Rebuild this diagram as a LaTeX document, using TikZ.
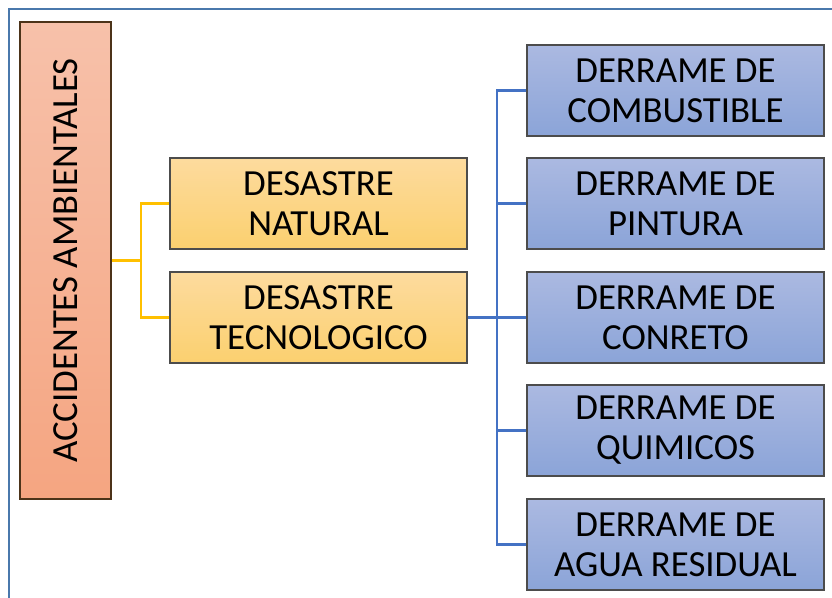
\documentclass[tikz,border=0pt]{standalone}
\usepackage{fontspec}
\setmainfont{Carlito}
\begin{document}
\begin{tikzpicture}[x=0.75pt,y=-0.75pt,
  base/.style={draw=black!70,line width=0.8pt,minimum width=297*0.75pt,minimum height=91*0.75pt,align=center,font=\fontsize{27.6}{30}\selectfont,inner sep=0pt},
  orangebox/.style={base,top color=orange1,bottom color=orange2},
  bluebox/.style={base,top color=blue1,bottom color=blue2},
  yline/.style={draw=yel,line width=1.6pt},
  bline/.style={draw=blu,line width=1.6pt}]
\definecolor{orange1}{HTML}{FDDB9E}
\definecolor{orange2}{HTML}{FBD06F}
\definecolor{blue1}{HTML}{ABB9E1}
\definecolor{blue2}{HTML}{8BA4D8}
\definecolor{salm1}{HTML}{F7C1AA}
\definecolor{salm2}{HTML}{F5A581}
\definecolor{yel}{HTML}{FFC000}
\definecolor{blu}{HTML}{4472C4}
\definecolor{frame}{HTML}{4A78AC}
\useasboundingbox (0,0) rectangle (832,597);
\draw[frame,line width=2pt] (9,620) -- (9,9) -- (850,9);
\node[draw=black!60!brown,line width=0.8pt,top color=salm1,bottom color=salm2,minimum width=91*0.75pt,minimum height=477*0.75pt,inner sep=0pt] (acc) at (65.5,260.5) {};
\node[rotate=90,font=\fontsize{27.6}{30}\selectfont] (acct) at (acc.center) {ACCIDENTES AMBIENTALES};
\node[orangebox] (nat) at (318.5,203.5) {DESASTRE\\NATURAL};
\node[orangebox] (tec) at (318.5,317.5) {DESASTRE\\TECNOLOGICO};
\node[bluebox] (b1) at (675.5,90.5) {DERRAME DE\\COMBUSTIBLE};
\node[bluebox] (b2) at (675.5,203.5) {DERRAME DE\\PINTURA};
\node[bluebox] (b3) at (675.5,317.5) {DERRAME DE\\CONRETO};
\node[bluebox] (b4) at (675.5,430.5) {DERRAME DE\\QUIMICOS};
\node[bluebox] (b5) at (675.5,544.5) {DERRAME DE\\AGUA RESIDUAL};
\coordinate (yj) at (141,260.5);
\coordinate (bj) at (497,317.5);
\draw[yline] (acc.east |- yj) -- (yj);
\draw[yline] (nat.west) -| (yj) |- (tec.west);
\draw[bline] (tec.east) -- (bj);
\draw[bline] (b1.west) -| (bj) |- (b5.west);
\draw[bline] (b2.west) -- (b2.west -| bj);
\draw[bline] (b3.west) -- (b3.west -| bj);
\draw[bline] (b4.west) -- (b4.west -| bj);
\end{tikzpicture}
\end{document}
